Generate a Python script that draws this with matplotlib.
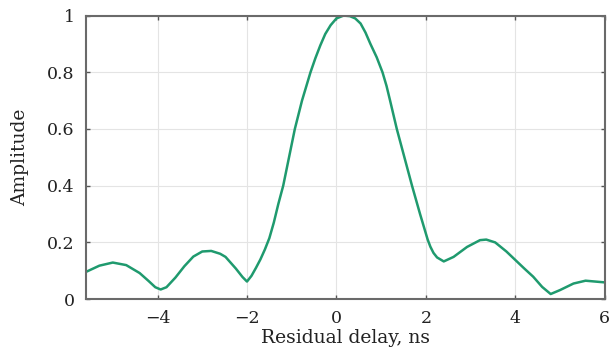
import matplotlib
matplotlib.use("Agg")
import matplotlib.pyplot as plt

delay_ns = [-5.6, -5.3, -5.0, -4.7, -4.4, -4.2, -4.05, -3.93, -3.8, -3.6, -3.4, -3.2,
            -3.0, -2.8, -2.6, -2.48, -2.25, -2.1, -2.0, -1.9, -1.8, -1.7, -1.6, -1.5,
            -1.4, -1.3, -1.19, -1.06, -0.93, -0.77, -0.58, -0.47, -0.36, -0.25, -0.13,
            0.0, 0.16, 0.3, 0.42, 0.54, 0.65, 0.76, 0.9, 1.03, 1.12, 1.2, 1.35, 1.52, 1.69,
            1.87, 2.04, 2.1, 2.17, 2.25, 2.4, 2.62, 2.92, 3.21, 3.35, 3.55, 3.8, 4.0,
            4.2, 4.4, 4.6, 4.79, 5.0, 5.3, 5.57, 6.0]
amplitude = [0.096, 0.118, 0.129, 0.12, 0.092, 0.064, 0.042, 0.034, 0.042, 0.076, 0.116, 0.15,
             0.168, 0.17, 0.16, 0.149, 0.108, 0.078, 0.062, 0.082, 0.11, 0.14, 0.175, 0.215,
             0.27, 0.335, 0.4, 0.5, 0.6, 0.7, 0.8, 0.85, 0.895, 0.935, 0.966,
             0.99, 1.0, 0.998, 0.99, 0.972, 0.94, 0.9, 0.853, 0.8, 0.752, 0.7, 0.6, 0.5, 0.4,
             0.3, 0.21, 0.185, 0.163, 0.147, 0.133, 0.149, 0.184, 0.208, 0.21, 0.2, 0.168,
             0.138, 0.108, 0.079, 0.043, 0.018, 0.032, 0.055, 0.065, 0.059]

xticks = [-4, -2, 0, 2, 4, 6]
xticklabels = ["\u22124", "\u22122", "0", "2", "4", "6"]
yticks = [0, 0.2, 0.4, 0.6, 0.8, 1.0]
yticklabels = ["0", "0.2", "0.4", "0.6", "0.8", "1"]

plt.rcParams['font.family'] = ['DejaVu Serif']

fig = plt.figure(figsize=(6.14, 3.54), dpi=100)
ax = fig.add_axes([0.140, 0.155, 0.845, 0.801])

ax.plot(delay_ns, amplitude, color="#1f9a6e", lw=1.8, solid_joinstyle="round",
        solid_capstyle="round")

ax.set_xlim(-5.6, 6)
ax.set_ylim(0, 1)
ax.set_xticks(xticks)
ax.set_xticklabels(xticklabels)
ax.set_yticks(yticks)
ax.set_yticklabels(yticklabels)
ax.grid(True, color="#e4e4e4", lw=0.8)
ax.set_axisbelow(True)
ax.tick_params(direction="in", length=3, width=1, colors="#555555", labelcolor="#222222",
               labelsize=12.5, top=True, right=True)
ax.tick_params(axis="x", pad=8)
ax.tick_params(axis="y", pad=8)
for s in ax.spines.values():
    s.set_color("#6a6a6a")
    s.set_linewidth(1.5)

ax.set_xlabel("Residual delay, ns", fontsize=13.5, color="#222222", labelpad=1)
ax.set_ylabel("Amplitude", fontsize=13.5, color="#222222", labelpad=13)

fig.savefig("out.png", dpi=100)
